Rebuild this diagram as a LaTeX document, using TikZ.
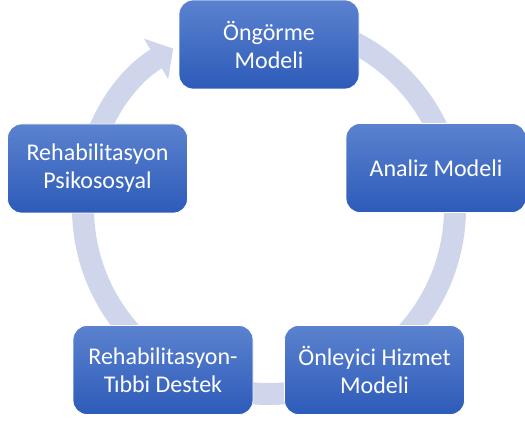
\documentclass[tikz,border=0pt]{standalone}
\usepackage{fontspec}
\setmainfont{Carlito}
\usetikzlibrary{arrows.meta}
\definecolor{ringlav}{HTML}{CFD5EA}
\definecolor{boxtop}{HTML}{5B82CF}
\definecolor{boxbot}{HTML}{2D5BB9}
\tikzset{model/.style={rounded corners=14pt,
    top color=boxtop, bottom color=boxbot, draw=white, line width=0.8pt,
    text=white, align=center, inner sep=0pt,
    minimum width=180pt, minimum height=89pt,
    font=\fontsize{24}{28}\selectfont},
    ring/.style={draw=ringlav, line width=22pt},
    }
\begin{document}
\begin{tikzpicture}[x=1pt,y=1pt]
\useasboundingbox (0,0) rectangle (525,423);
% cycle arrow behind the boxes
\draw[ring,-{Triangle[length=20pt,width=46pt]}] (269,215) ++(90:186)
    arc[start angle=90, end angle=-239, radius=186];
% models
\node[model] (ongorme) at (269,378.5) {Öngörme\\Modeli};
\node[model] (analiz) at (436,255) {Analiz Modeli};
\node[model] (onleyici) at (374.5,53) {Önleyici Hizmet\\Modeli};
\node[model] (tibbi) at (163,53) {Rehabilitasyon-\\Tıbbi Destek};
\node[model] (psiko) at (97.5,254.5) {Rehabilitasyon\\Psikososyal};
\end{tikzpicture}
\end{document}
